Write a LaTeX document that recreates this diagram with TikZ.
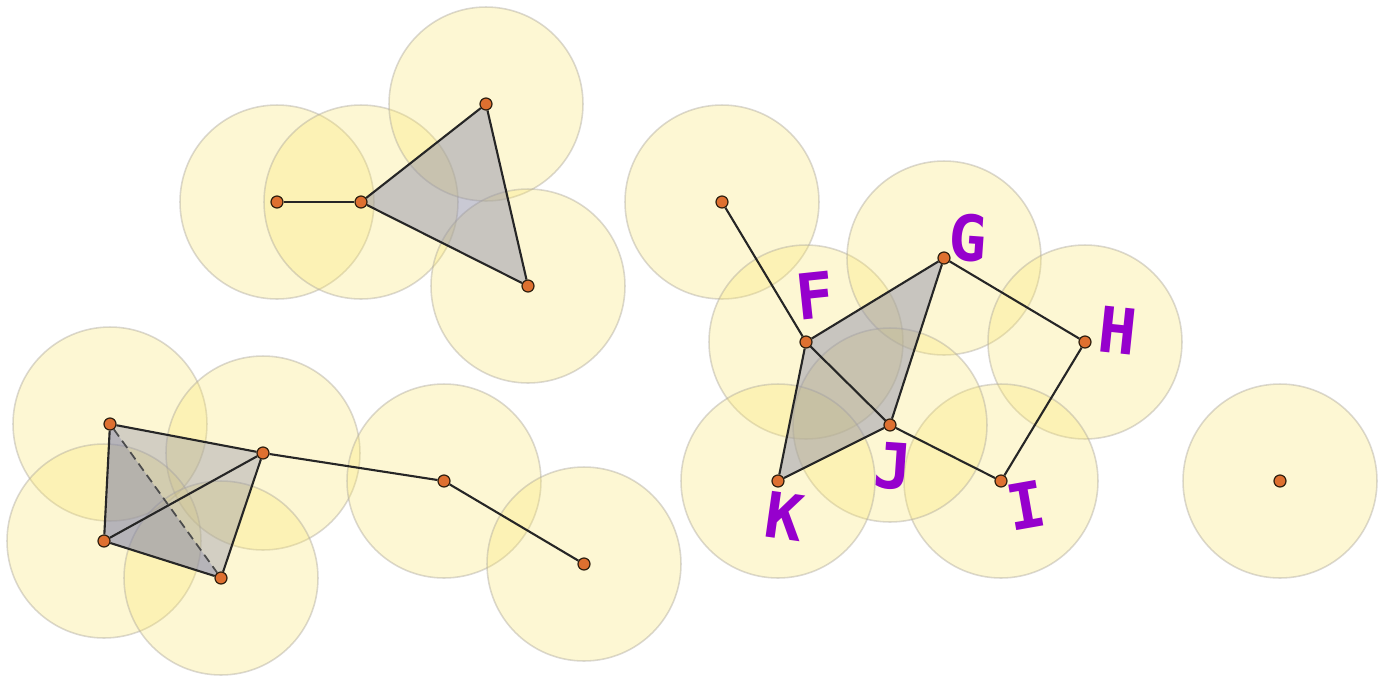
\documentclass[tikz,border=0pt]{standalone}
\usepackage{fontspec}
\setmonofont{DejaVu Sans Mono}
\usepackage{xcolor}
\usepackage{tikz}
\usetikzlibrary{backgrounds}

\definecolor{reach}{RGB}{250,230,110}
\definecolor{rim}{RGB}{175,170,160}
\definecolor{dot}{RGB}{222,112,48}
\definecolor{simplex}{RGB}{148,148,170}
\definecolor{shade}{RGB}{115,118,165}
\definecolor{tag}{RGB}{150,0,205}

\begin{document}
\begin{tikzpicture}[x=0.02cm, y=-0.02cm,
  vtx/.style={circle, draw=black!75!brown, line width=0.7pt, fill=dot, inner sep=0pt, minimum size=0.24cm},
  ball/.style={fill=reach, fill opacity=0.3, draw=rim, draw opacity=0.45, line width=0.9pt},
  face/.style={fill=simplex, fill opacity=0.5, draw=none},
  edge/.style={draw=black!85, line width=1.2pt},
  hidden/.style={draw=black!70, line width=1pt, dash pattern=on 5pt off 3pt},
  lbl/.style={text=tag, font=\ttfamily\bfseries\fontsize{36}{36}\selectfont, inner sep=0pt}
]
\useasboundingbox (0,0) rectangle (1390,681);

% vertices
\node[vtx] (a1) at (277,202) {};
\node[vtx] (a2) at (361,202) {};
\node[vtx] (a3) at (486,104) {};
\node[vtx] (a4) at (528,286) {};

\node[vtx] (b1) at (110,424) {};
\node[vtx] (b2) at (263,453) {};
\node[vtx] (b3) at (104,541) {};
\node[vtx] (b4) at (221,578) {};
\node[vtx] (b5) at (444,481) {};
\node[vtx] (b6) at (584,564) {};

\node[vtx] (p) at (722,202) {};
\node[vtx] (f) at (806,342) {};
\node[vtx] (g) at (944,258) {};
\node[vtx] (h) at (1085,342) {};
\node[vtx] (i) at (1001,481) {};
\node[vtx] (j) at (890,425) {};
\node[vtx] (k) at (778,481) {};

\node[vtx] (solo) at (1280,481) {};

% labels
\node[lbl, rotate=6] (lf) at (815,296) {F};
\node[lbl, rotate=-4] (lg) at (968,238) {G};
\node[lbl, rotate=-6] (lh) at (1118,331) {H};
\node[lbl, rotate=10] (li) at (1026,505) {I};
\node[lbl, rotate=-4] (lj) at (893,466) {J};
\node[lbl, rotate=-8] (lk) at (785,516) {K};

\begin{scope}[on background layer]
  \foreach \v in {a1,a2,a3,a4,b1,b2,b3,b4,b5,b6,p,f,g,h,i,j,k,solo}
    \path[ball] (\v.center) circle [radius=1.94cm];
  % filled simplices
  \path[face] (a2.center) -- (a3.center) -- (a4.center) -- cycle;
  \path[face] (f.center) -- (g.center) -- (j.center) -- cycle;
  \path[face] (f.center) -- (j.center) -- (k.center) -- cycle;
  \path[face, fill opacity=0.4] (b1.center) -- (b2.center) -- (b4.center) -- (b3.center) -- cycle;
  \path[face, fill=shade, fill opacity=0.3] (b1.center) -- (b4.center) -- (b3.center) -- cycle;
  % edges
  \draw[edge] (a1) -- (a2); \draw[edge] (a2) -- (a3); \draw[edge] (a3) -- (a4); \draw[edge] (a4) -- (a2);
  \draw[edge] (b1) -- (b2); \draw[edge] (b1) -- (b3); \draw[edge] (b3) -- (b4); \draw[edge] (b4) -- (b2); \draw[edge] (b3) -- (b2);
  \draw[hidden] (b1) -- (b4);
  \draw[edge] (b2) -- (b5); \draw[edge] (b5) -- (b6);
  \draw[edge] (p) -- (f); \draw[edge] (f) -- (g); \draw[edge] (g) -- (j); \draw[edge] (f) -- (j);
  \draw[edge] (f) -- (k); \draw[edge] (k) -- (j); \draw[edge] (j) -- (i); \draw[edge] (i) -- (h); \draw[edge] (h) -- (g);
\end{scope}
\end{tikzpicture}
\end{document}
